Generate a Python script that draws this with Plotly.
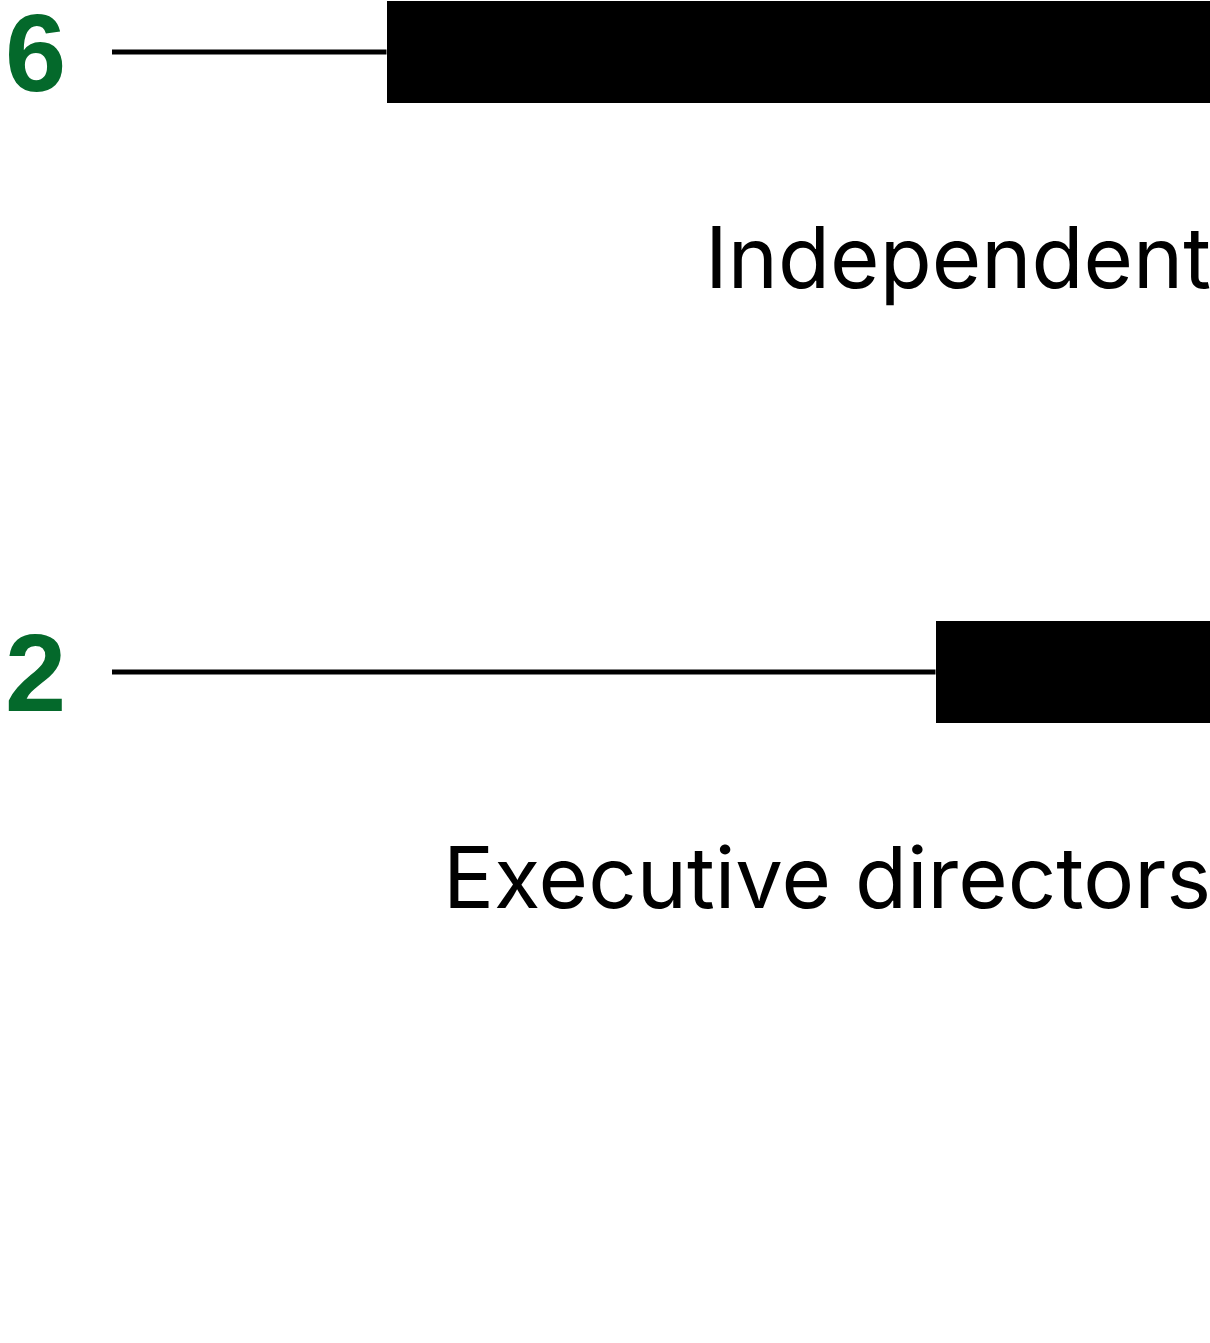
import plotly.graph_objects as go

categories = ["Independent", "Executive directors"]
values = [6, 2]
total = sum(values)

GREEN = "#04692b"

fig = go.Figure()

# track line from the board total down to the bar
for cat, val in zip(categories, values):
    fig.add_trace(go.Scatter(x=[total, val], y=[cat, cat], mode="lines",
                             line=dict(color="black", width=5),
                             hoverinfo="skip", showlegend=False))

fig.add_trace(go.Bar(x=values, y=categories, orientation="h",
                     marker=dict(color="black", line=dict(width=0)),
                     width=0.165, showlegend=False))

for i, (cat, val) in enumerate(zip(categories, values)):
    fig.add_annotation(x=0, xref="paper", y=cat, yref="y", text=str(val),
                       showarrow=False, xanchor="left", yanchor="middle",
                       xshift=3, font=dict(family="Liberation Sans", size=110,
                                           color=GREEN, weight="bold"))
    fig.add_annotation(x=0, xref="x", y=i + 0.332, yref="y", text=cat,
                       showarrow=False, xanchor="right", yanchor="middle",
                       xshift=3, font=dict(family="Inter", size=85, color="black"))

px_per_unit = 1098 / total
fig.update_layout(
    width=1210, height=1343,
    margin=dict(l=0, r=0, t=0, b=0),
    plot_bgcolor="white", paper_bgcolor="white",
    xaxis=dict(range=[total + 112 / px_per_unit, 0], visible=False, fixedrange=True),
    yaxis=dict(type="category", categoryorder="array", categoryarray=categories,
               range=[(1343 - 52) / 620, -52 / 620], visible=False),
    bargap=0,
)

fig.write_html("out.html", config={"displayModeBar": False},
               post_script="document.body.style.margin='0';")
